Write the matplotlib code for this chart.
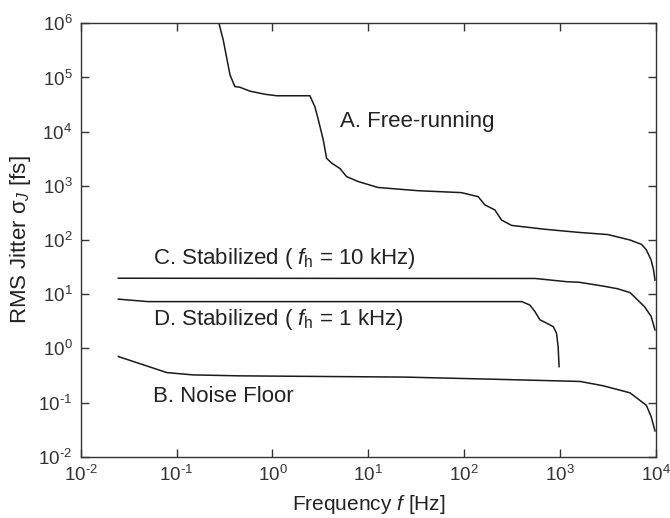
import matplotlib
matplotlib.use("Agg")
import matplotlib.pyplot as plt

plt.rcParams['font.family'] = ['Liberation Sans', 'DejaVu Sans']
plt.rcParams['mathtext.fontset'] = 'custom'
plt.rcParams['mathtext.rm'] = 'Liberation Sans'
plt.rcParams['mathtext.it'] = 'Liberation Sans:italic'
plt.rcParams['mathtext.sf'] = 'Liberation Sans'

# A. Free-running
freq_A = [0.277, 0.307, 0.361, 0.406, 0.458, 0.582, 0.836, 1.107, 2.46, 2.77, 3.01,
          3.39, 3.67, 4.14, 5.06, 5.94, 7.85, 12.6, 33.1, 93.3, 140, 164, 209, 245,
          312, 692, 1585, 3162, 5370, 7080, 7940, 8910, 9440, 9770]
jit_A = [1.0e6, 4.9e5, 1.12e5, 6.8e4, 6.6e4, 5.6e4, 4.9e4, 4.6e4, 4.6e4, 2.9e4, 1.66e4,
         7080, 3240, 2630, 2090, 1480, 1200, 933, 813, 750, 631, 447, 359, 234,
         186, 158, 138, 126, 100, 83, 66, 42.7, 28.2, 18.2]

# C. Stabilized (fh = 10 kHz)
freq_C = [0.0247, 550, 1175, 1585, 2818, 3981, 5370, 7586, 8913, 9772]
jit_C = [19.7, 19.5, 17.0, 16.6, 14.1, 12.6, 10.7, 5.9, 3.9, 2.19]

# D. Stabilized (fh = 1 kHz)
freq_D = [0.0247, 0.05, 400, 484, 546, 617, 724, 851, 918, 955, 977]
jit_D = [8.1, 7.3, 7.3, 6.3, 4.8, 3.36, 2.92, 2.51, 1.91, 1.08, 0.46]

# B. Noise floor
freq_B = [0.0247, 0.0794, 0.148, 0.457, 24, 209, 741, 1622, 2818, 5370, 7943, 8913, 9772]
jit_B = [0.706, 0.357, 0.324, 0.311, 0.295, 0.269, 0.254, 0.245, 0.204, 0.151, 0.089, 0.055, 0.03]

xticks = [1e-2, 1e-1, 1e0, 1e1, 1e2, 1e3, 1e4]
xticklabels = [r'$10^{\text{-}2}$', r'$10^{\text{-}1}$', r'$10^{0}$', r'$10^{1}$', r'$10^{2}$',
               r'$10^{3}$', r'$10^{4}$']
yticks = [1e-2, 1e-1, 1e0, 1e1, 1e2, 1e3, 1e4, 1e5, 1e6]
yticklabels = [r'$10^{\text{-}2}$', r'$10^{\text{-}1}$', r'$10^{0}$', r'$10^{1}$', r'$10^{2}$',
               r'$10^{3}$', r'$10^{4}$', r'$10^{5}$', r'$10^{6}$']

fig = plt.figure(figsize=(6.7, 5.18), dpi=100)
ax = fig.add_axes([0.1204, 0.1183, 0.8586, 0.8367])

lc = '#1a1a1a'
for f, j in [(freq_A, jit_A), (freq_C, jit_C), (freq_D, jit_D), (freq_B, jit_B)]:
    ax.plot(f, j, color=lc, lw=1.1, clip_on=True)

ax.set_xscale('log')
ax.set_yscale('log')
ax.set_xlim(1e-2, 1e4)
ax.set_ylim(1e-2, 1e6)
ax.set_xticks(xticks)
ax.set_xticklabels(xticklabels)
ax.set_yticks(yticks)
ax.set_yticklabels(yticklabels)
ax.minorticks_off()
ax.tick_params(which='both', direction='in', top=True, right=True, length=6,
               width=1.0, labelsize=13.5, colors='#333333', pad=6)
for s in ax.spines.values():
    s.set_color('#333333')
    s.set_linewidth(1.0)

tc = '#222222'
ax.set_xlabel(r'Frequency $\mathit{f}$ [Hz]', fontsize=15, color=tc, labelpad=6)
ax.set_ylabel(r'RMS Jitter $\mathrm{\sigma}_{\mathit{J}}$ [fs]', fontsize=16, color=tc, labelpad=4)

ax.text(5.06, 10**4.185, 'A. Free-running', fontsize=16, color=tc, va='center', ha='left')
ax.text(10**-1.249, 10**1.651, r'C. Stabilized ( $\mathit{f}_{\mathrm{h}}$ = 10 kHz)',
        fontsize=16, color=tc, va='center', ha='left')
ax.text(10**-1.249, 10**0.526, r'D. Stabilized ( $\mathit{f}_{\mathrm{h}}$ = 1 kHz)',
        fontsize=16, color=tc, va='center', ha='left')
ax.text(10**-1.249, 10**-0.889, 'B. Noise Floor', fontsize=16, color=tc, va='center', ha='left')

fig.savefig('out.png', dpi=100)
